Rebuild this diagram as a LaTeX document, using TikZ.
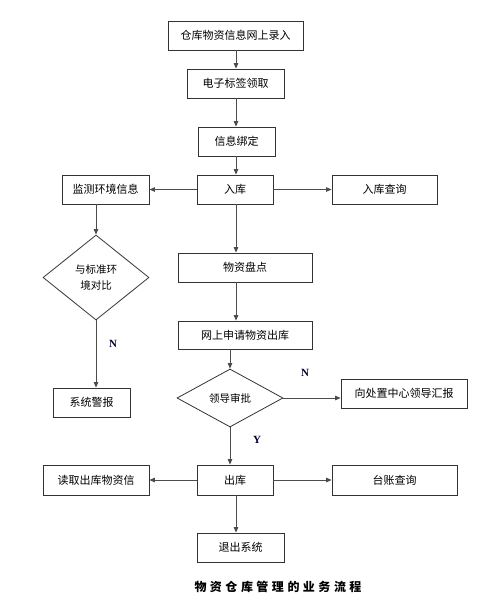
\documentclass[tikz,border=0pt]{standalone}
\usepackage{fontspec}
\setmainfont{Noto Sans CJK SC}
\newfontfamily\latinserif{Liberation Serif}
\usetikzlibrary{shapes.geometric,arrows.meta}
\begin{document}
\begin{tikzpicture}[x=1pt,y=-1pt,
  box/.style={draw=black!80,line width=0.8pt,inner sep=0pt,font=\fontsize{11}{13}\selectfont},
  dia/.style={diamond,draw=black!80,line width=0.8pt,inner sep=0pt,align=center,font=\fontsize{10.5}{16}\selectfont},
  flow/.style={draw=black!70,line width=0.8pt,-{Triangle[length=5.5pt,width=4.5pt]}},
  lab/.style={font=\latinserif\fontsize{11}{13}\selectfont\bfseries,text=black!80!blue}]
\useasboundingbox (0,0) rectangle (494,602);
\node[box,minimum width=135pt,minimum height=29pt] (b1) at (235.5,35.5) {仓库物资信息网上录入};
\node[box,minimum width=97pt,minimum height=29pt] (b2) at (235.5,83.5) {电子标签领取};
\node[box,minimum width=77pt,minimum height=29pt] (b3) at (236.5,141.5) {信息绑定};
\node[box,minimum width=76pt,minimum height=29pt] (ruku) at (235,189.5) {入库};
\node[box,minimum width=87pt,minimum height=29pt] (jiance) at (105.5,189.5) {监测环境信息};
\node[box,minimum width=105pt,minimum height=29pt] (rkcx) at (384.5,189.5) {入库查询};
\node[dia,minimum width=106pt,minimum height=85pt] (d1) at (96,277.5) {与标准环\\境对比};
\node[box,minimum width=77pt,minimum height=29pt] (jingbao) at (91.5,402.5) {系统警报};
\node[box,minimum width=134pt,minimum height=29pt] (pandian) at (245,267.5) {物资盘点};
\node[box,minimum width=134pt,minimum height=28pt] (shenqing) at (245,335) {网上申请物资出库};
\node[dia,minimum width=106pt,minimum height=58pt] (d2) at (230,398) {领导审批};
\node[box,minimum width=126pt,minimum height=29pt] (huibao) at (404,393.5) {向处置中心领导汇报};
\node[box,minimum width=76pt,minimum height=30pt] (chuku) at (235,480) {出库};
\node[box,minimum width=106pt,minimum height=30pt] (duqu) at (96,480) {读取出库物资信};
\node[box,minimum width=125pt,minimum height=30pt] (taizhang) at (394.5,480) {台账查询};
\node[box,minimum width=87pt,minimum height=29pt] (tuichu) at (240.5,547.5) {退出系统};
\node[font=\fontsize{12}{14}\selectfont\bfseries] (cap) at (278,587) {物\kern3.5pt 资\kern3.5pt 仓\kern3.5pt 库\kern3.5pt 管\kern3.5pt 理\kern3.5pt 的\kern3.5pt 业\kern3.5pt 务\kern3.5pt 流\kern3.5pt 程};
\coordinate (x236) at (236,0);
\draw[flow] (b1.south -| x236) -- (b2.north -| x236);
\draw[flow] (b2.south -| x236) -- (b3.north -| x236);
\draw[flow] (b3.south -| x236) -- (ruku.north -| x236);
\draw[flow] (ruku.west) -- (jiance.east);
\draw[flow] (ruku.east) -- (rkcx.west);
\draw[flow] (jiance.south -| d1.north) -- (d1.north);
\draw[flow] (ruku.south -| x236) -- (pandian.north -| x236);
\draw[flow] (pandian.south -| x236) -- (shenqing.north -| x236);
\draw[flow] (shenqing.south -| d2.north) -- (d2.north);
\draw[flow] (d1.south) -- (d1.south |- jingbao.north);
\draw[flow] (d2.east) -- (d2.east -| huibao.west);
\draw[flow] (d2.south) -- (d2.south |- chuku.north);
\draw[flow] (chuku.west) -- (duqu.east);
\draw[flow] (chuku.east) -- (taizhang.west);
\draw[flow] (chuku.south -| x236) -- (tuichu.north -| x236);
\node[lab] (n1) at (113,344) {N};
\node[lab] (n2) at (305,373) {N};
\node[lab] (y1) at (257,440) {Y};
\end{tikzpicture}
\end{document}
